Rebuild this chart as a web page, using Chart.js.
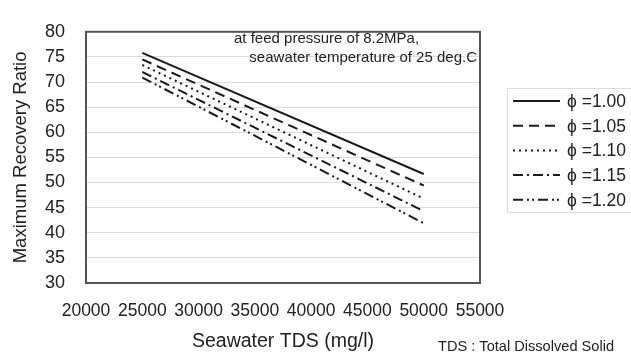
<!DOCTYPE html>
<html><head><meta charset="utf-8">
<script src="https://cdn.jsdelivr.net/npm/chart.js@4"></script>
<style>html,body{margin:0;padding:0;background:#fff;}#wrap{width:631px;height:357px;position:relative;}</style>
</head><body><div id="wrap"><canvas id="c" width="631" height="357"></canvas></div>
<script>
const seriesLabels = ['ϕ =1.00','ϕ =1.05','ϕ =1.10','ϕ =1.15','ϕ =1.20'];
const tdsPoints = [25000, 50000];
const phi100 = [75.8, 51.7];
const phi105 = [74.5, 49.4];
const phi110 = [73.4, 46.8];
const phi115 = [72.0, 44.3];
const phi120 = [70.9, 41.9];
const xTicks = [20000,25000,30000,35000,40000,45000,50000,55000];
const yTicks = [30,35,40,45,50,55,60,65,70,75,80];
const noteLines = ['at feed pressure of 8.2MPa,', 'seawater temperature of 25 deg.C'];
const footnote = 'TDS : Total Dissolved Solid';

const dashes = [[], [10,6], [2,4], [10,4,2,4], [10,4,2,3,2,4]];
const seriesValues = [phi100, phi105, phi110, phi115, phi120];
const FONT = '"Liberation Sans", Arial, sans-serif';

const datasets = seriesValues.map((vals, i) => ({
  label: seriesLabels[i],
  data: tdsPoints.map((x, j) => ({x: x, y: vals[j]})),
  borderColor: '#1a1a1a',
  borderWidth: 2,
  borderDash: dashes[i],
  pointRadius: 0,
  fill: false,
  tension: 0
}));

const decor = {
  id: 'decor',
  afterDraw(chart) {
    const ctx = chart.ctx;
    const a = chart.chartArea;
    ctx.save();
    ctx.strokeStyle = '#555';
    ctx.lineWidth = 2;
    ctx.strokeRect(a.left, a.top, a.right - a.left, a.bottom - a.top);
    ctx.fillStyle = '#222';
    ctx.font = '15px ' + FONT;
    ctx.textBaseline = 'middle';
    ctx.textAlign = 'left';
    ctx.fillText(noteLines[0], 234, 39);
    ctx.textAlign = 'right';
    ctx.fillText(noteLines[1], 477, 58);
    ctx.strokeStyle = '#ddd';
    ctx.lineWidth = 1;
    ctx.strokeRect(507.5, 88.5, 130, 124);
    chart.data.datasets.forEach((ds, i) => {
      const y = 101 + i * 24.7;
      ctx.strokeStyle = '#1a1a1a';
      ctx.lineWidth = 2;
      ctx.setLineDash(ds.borderDash);
      ctx.beginPath();
      ctx.moveTo(513, y);
      ctx.lineTo(560, y);
      ctx.stroke();
      ctx.setLineDash([]);
      ctx.fillStyle = '#222';
      ctx.font = '17.5px ' + FONT;
      ctx.textAlign = 'left';
      ctx.fillText(ds.label, 567, y + 1);
    });
    ctx.font = '14.6px ' + FONT;
    ctx.textAlign = 'left';
    ctx.fillStyle = '#222';
    ctx.fillText(footnote, 438, 347);
    ctx.restore();
  }
};

new Chart(document.getElementById('c'), {
  type: 'line',
  data: { datasets: datasets },
  plugins: [decor],
  options: {
    responsive: false,
    animation: false,
    layout: { padding: { top: 20, right: 151, left: 0, bottom: 0 } },
    plugins: { legend: { display: false }, tooltip: { enabled: false } },
    scales: {
      x: {
        type: 'linear', min: 20000, max: 55000,
        afterFit(s) { s.height = 74; },
        afterBuildTicks(s) { s.ticks = xTicks.map(v => ({value: v})); },
        grid: { display: false, drawTicks: false },
        border: { display: false },
        ticks: { padding: 18, color: '#222', font: { family: FONT, size: 17.5 }, callback: v => String(v), maxRotation: 0, autoSkip: false },
        title: { display: true, text: 'Seawater TDS (mg/l)', color: '#222', font: { family: FONT, size: 19.5 }, padding: { top: 0, bottom: 4 } }
      },
      y: {
        min: 30, max: 80,
        afterFit(s) { s.width = 86; },
        afterBuildTicks(s) { s.ticks = yTicks.map(v => ({value: v})); },
        grid: { color: '#dcdcdc', lineWidth: 1, drawTicks: false },
        border: { display: false },
        ticks: { padding: 21, color: '#222', font: { family: FONT, size: 18 } },
        title: { display: true, text: 'Maximum Recovery Ratio', color: '#222', font: { family: FONT, size: 18.5 }, padding: { top: 10, bottom: 0 } }
      }
    }
  }
});
</script></body></html>
